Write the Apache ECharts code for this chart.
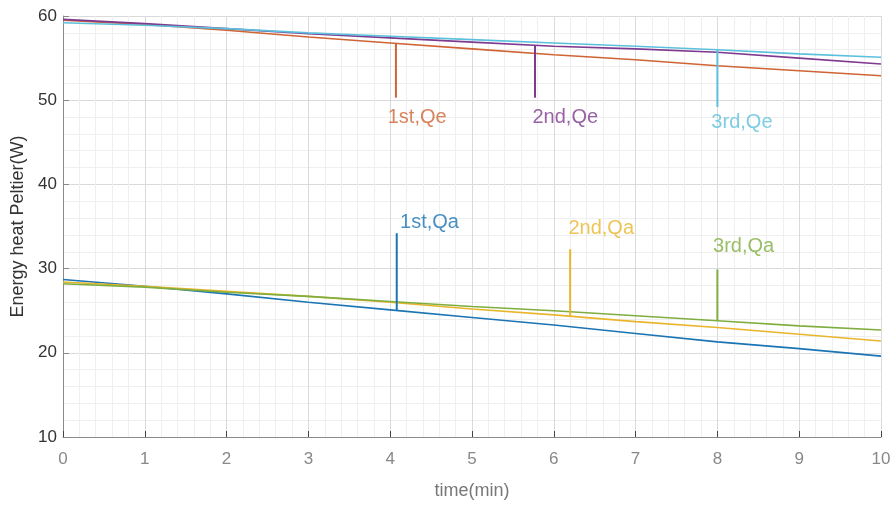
<!DOCTYPE html>
<html>
<head>
<meta charset="utf-8">
<script src="https://cdn.jsdelivr.net/npm/echarts@6/dist/echarts.min.js"></script>
<style>html,body{margin:0;padding:0;background:#fff;}#c{width:895px;height:505px;}</style>
</head>
<body>
<div id="c"></div>
<script>
// ---- data ----
var timeMin = [0, 1, 2, 3, 4, 5, 6, 7, 8, 9, 10];
var qe1 = [59.5, 59.0, 58.3, 57.5, 56.8, 56.1, 55.4, 54.8, 54.1, 53.5, 52.9];
var qe2 = [59.6, 59.1, 58.5, 57.9, 57.4, 56.9, 56.4, 56.1, 55.7, 55.0, 54.3];
var qe3 = [59.2, 58.9, 58.5, 58.0, 57.6, 57.2, 56.8, 56.4, 56.0, 55.5, 55.1];
var qa1 = [28.7, 27.9, 27.0, 26.0, 25.1, 24.2, 23.3, 22.3, 21.3, 20.5, 19.6];
var qa2 = [28.4, 27.9, 27.3, 26.7, 26.0, 25.2, 24.5, 23.7, 23.0, 22.2, 21.4];
var qa3 = [28.2, 27.8, 27.2, 26.7, 26.1, 25.5, 25.0, 24.4, 23.8, 23.2, 22.7];
var seriesNames = ['1st,Qe', '2nd,Qe', '3rd,Qe', '1st,Qa', '2nd,Qa', '3rd,Qa'];
// annotation stems: x, from value, to value; label position
var annX    = [4.07, 5.77, 8.0, 4.08, 6.2, 8.0];
var annFrom = [56.8, 56.5, 56.0, 25.0, 24.3, 23.8];
var annTo   = [50.3, 50.3, 49.2, 34.2, 32.3, 29.9];
var labelX  = [4.33, 6.14, 8.3, 4.48, 6.58, 8.32];
var labelY  = [48.0, 47.9, 47.4, 35.5, 34.8, 32.6];
var yTicks = [10, 20, 30, 40, 50, 60];
var xTicks = [0, 1, 2, 3, 4, 5, 6, 7, 8, 9, 10];

var colors = ['#cf6435', '#7e3a8f', '#5cc0dd', '#1b74b3', '#e8b52c', '#7fae3e'];
var allData = [qe1, qe2, qe3, qa1, qa2, qa3];
var FONT = 'Liberation Sans, Arial, sans-serif';

var series = [];
allData.forEach(function (arr, i) {
  series.push({
    type: 'line', name: seriesNames[i], showSymbol: false, silent: true,
    data: timeMin.map(function (t, k) { return [t, arr[k]]; }),
    lineStyle: { color: colors[i], width: 1.6 }, itemStyle: { color: colors[i] }, z: 3
  });
  series.push({
    type: 'line', showSymbol: false, silent: true,
    data: [[annX[i], annFrom[i]], [annX[i], annTo[i]]],
    lineStyle: { color: colors[i], width: 2 }, z: 4
  });
  series.push({
    type: 'scatter', symbolSize: 0, silent: true,
    data: [[labelX[i], labelY[i]]],
    label: { show: true, position: 'inside', formatter: seriesNames[i],
      color: colors[i], fontSize: 20, fontFamily: FONT }
  });
});

var chart = echarts.init(document.getElementById('c'), null, { renderer: 'canvas' });
chart.setOption({
  animation: false,
  backgroundColor: '#fff',
  grid: { left: 63, right: 14, top: 16, bottom: 68, containLabel: false },
  xAxis: {
    type: 'value', min: 0, max: 10, interval: 1,
    name: 'time(min)', nameLocation: 'middle', nameGap: 45,
    nameTextStyle: { color: '#777', fontSize: 18, fontFamily: FONT },
    axisLine: { show: true, onZero: false, lineStyle: { color: '#8a8a8a', width: 1 } },
    axisTick: { show: true, inside: true, length: 6, lineStyle: { color: '#444' } },
    axisLabel: { color: '#888', fontSize: 17, margin: 14, fontFamily: FONT,
      formatter: function (v) { return xTicks.indexOf(v) >= 0 ? String(v) : ''; } },
    splitLine: { show: true, lineStyle: { color: '#dadada', width: 1 } },
    minorTick: { show: true, splitNumber: 5, length: 0 },
    minorSplitLine: { show: true, lineStyle: { color: '#efefef', width: 1 } }
  },
  yAxis: {
    type: 'value', min: 10, max: 60, interval: 10,
    name: 'Energy heat Peltier(W)', nameLocation: 'middle', nameGap: 30,
    nameTextStyle: { color: '#333', fontSize: 18, fontFamily: FONT },
    axisLine: { show: true, lineStyle: { color: '#8a8a8a', width: 1 } },
    axisTick: { show: true, inside: true, length: 6, lineStyle: { color: '#888' } },
    axisLabel: { color: '#333', fontSize: 17, margin: 6, fontFamily: FONT,
      formatter: function (v) { return yTicks.indexOf(v) >= 0 ? String(v) : ''; } },
    splitLine: { show: true, lineStyle: { color: '#dadada', width: 1 } },
    minorTick: { show: true, splitNumber: 5, length: 0 },
    minorSplitLine: { show: true, lineStyle: { color: '#efefef', width: 1 } }
  },
  series: series
});
</script>
</body>
</html>
